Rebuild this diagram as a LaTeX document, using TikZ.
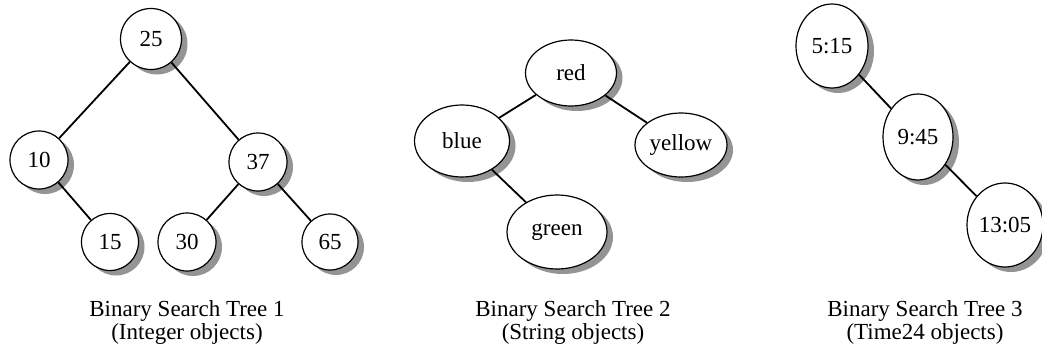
\documentclass[tikz,border=0pt]{standalone}
\usepackage{fontspec}
\setmainfont{Liberation Serif}
\usetikzlibrary{shapes.geometric,shadows}
\begin{document}
\begin{tikzpicture}[x=1pt,y=-1pt,
  shd/.style={drop shadow={shadow xshift=6pt,shadow yshift=-5pt,fill=black!42,opacity=1}},
  cnode/.style={circle,draw=black,line width=1.2pt,fill=white,inner sep=0pt,minimum size=#1,font=\fontsize{23}{26}\selectfont,shd},
  enode/.style 2 args={ellipse,draw=black,line width=1.2pt,fill=white,inner sep=0pt,minimum width=#1,minimum height=#2,font=\fontsize{23}{26}\selectfont,shd},
  link/.style={line width=1.8pt,black},
  captxt/.style={align=center,font=\fontsize{23}{23}\selectfont}]
\useasboundingbox[fill=white] (0,0) rectangle (1042,356);
% Tree 1
\node[cnode=61pt] (n25) at (151,39) {25};
\node[cnode=58pt] (n10) at (39,160) {10};
\node[cnode=58pt] (n37) at (258,162) {37};
\node[cnode=57pt] (n15) at (110,242) {15};
\node[cnode=58pt] (n30) at (187,242) {30};
\node[cnode=56pt] (n65) at (330,242) {65};
\draw[link] (n25) -- (n10);
\draw[link] (n25) -- (n37);
\draw[link] (n10) -- (n15);
\draw[link] (n37) -- (n30);
\draw[link] (n37) -- (n65);
\node[captxt] (c1) at (187,322) {Binary Search Tree 1\\(Integer objects)};
% Tree 2
\node[enode={91pt}{66pt}] (red) at (571,73) {red};
\node[enode={95pt}{72pt}] (blue) at (462,141) {blue};
\node[enode={92pt}{64pt}] (yellow) at (681,145) {yellow};
\node[enode={100pt}{74pt}] (green) at (557,232) {green};
\draw[link] (red) -- (blue);
\draw[link] (red) -- (yellow);
\draw[link] (blue) -- (green);
\node[captxt] (c2) at (573,322) {Binary Search Tree 2\\(String objects)};
% Tree 3
\node[enode={72pt}{84pt}] (t1) at (832,46) {5:15};
\node[enode={70pt}{86pt}] (t2) at (918,137) {9:45};
\node[enode={76pt}{84pt}] (t3) at (1005,225) {13:05};
\draw[link] (t1) -- (t2);
\draw[link] (t2) -- (t3);
\node[captxt] (c3) at (925,322) {Binary Search Tree 3\\(Time24 objects)};
\end{tikzpicture}
\end{document}
